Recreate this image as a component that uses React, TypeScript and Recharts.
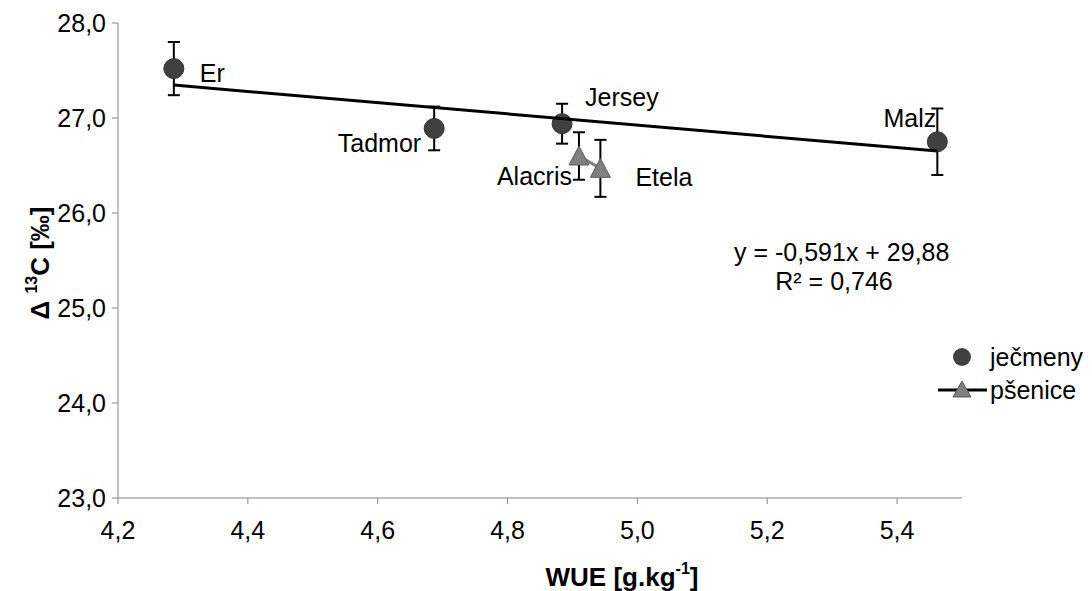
import React from 'react';
import { ScatterChart, Scatter, XAxis, YAxis, ErrorBar, Legend } from 'recharts';

// ječmeny (barley)
const barleyNames = ['Er', 'Tadmor', 'Jersey', 'Malz'];
const barleyWue = [4.286, 4.687, 4.884, 5.462];
const barleyDelta = [27.52, 26.89, 26.94, 26.75];
const barleyErr = [0.28, 0.23, 0.21, 0.35];

// pšenice (wheat)
const wheatNames = ['Alacris', 'Etela'];
const wheatWue = [4.91, 4.943];
const wheatDelta = [26.6, 26.47];
const wheatErr = [0.25, 0.3];

const xTicks = [4.2, 4.4, 4.6, 4.8, 5.0, 5.2, 5.4];
const yTicks = [23, 24, 25, 26, 27, 28];

// trend line from the chart's equation
const trendSlope = -0.591;
const trendIntercept = 29.88;
const trendText = ['y = -0,591x + 29,88', 'R² = 0,746'];

const FONT = '"Liberation Sans", Arial, sans-serif';
const FS = 25;
const fmt = (v: number) => v.toFixed(1).replace('.', ',');

const barley = barleyNames.map((name, i) => ({ name, x: barleyWue[i], y: barleyDelta[i], err: barleyErr[i] }));
const wheat = wheatNames.map((name, i) => ({ name, x: wheatWue[i], y: wheatDelta[i], err: wheatErr[i] }));
const trendX = [Math.min(...barleyWue), Math.max(...barleyWue)];
const trend = trendX.map(x => ({ x, y: trendSlope * x + trendIntercept }));

// label offsets relative to the marker centre
const labelPos: Record<string, { dx: number; dy: number; anchor: string }> = {
  Er: { dx: 26, dy: 4, anchor: 'start' },
  Tadmor: { dx: -13, dy: 15, anchor: 'end' },
  Jersey: { dx: 23, dy: -27, anchor: 'start' },
  Malz: { dx: -1, dy: -24, anchor: 'end' },
  Alacris: { dx: -7, dy: 20, anchor: 'end' },
  Etela: { dx: 35, dy: 9, anchor: 'start' },
};

const PointLabel = ({ cx, cy, name }: any) => {
  const p = labelPos[name];
  return (
    <text x={cx + p.dx} y={cy + p.dy} textAnchor={p.anchor} dominantBaseline="central"
      fontFamily={FONT} fontSize={FS} fill="#000">{name}</text>
  );
};

const Circle = (props: any) => {
  const { cx, cy, payload } = props;
  return (
    <g>
      <circle cx={cx} cy={cy} r={10} fill="#404040" stroke="#333" strokeWidth={1} />
      <PointLabel cx={cx} cy={cy} name={payload.name} />
    </g>
  );
};

const Triangle = (props: any) => {
  const { cx, cy, payload } = props;
  return (
    <g>
      <polygon points={`${cx},${cy - 10} ${cx + 10},${cy + 9} ${cx - 10},${cy + 9}`}
        fill="#808080" stroke="#5a5a5a" strokeWidth={1} />
      <PointLabel cx={cx} cy={cy} name={payload.name} />
    </g>
  );
};

const LegendBox = () => (
  <svg width={155} height={70} style={{ fontFamily: FONT }}>
    <circle cx={27} cy={17} r={9} fill="#404040" />
    <text x={55} y={17} dominantBaseline="central" fontSize={FS}>ječmeny</text>
    <line x1={3} y1={50} x2={52} y2={50} stroke="#000" strokeWidth={3} />
    <polygon points="27,41 36,57 18,57" fill="#808080" stroke="#5a5a5a" />
    <text x={55} y={50} dominantBaseline="central" fontSize={FS}>pšenice</text>
  </svg>
);

export default function App() {
  return (
    <div style={{ position: 'absolute', left: 0, top: 0, width: 1092, height: 591, background: '#fff', fontFamily: FONT }}>
      <ScatterChart width={1092} height={591} margin={{ top: 23, right: 130, left: 28, bottom: 33 }}>
        <XAxis type="number" dataKey="x" domain={[4.2, 5.5]} ticks={xTicks} allowDataOverflow
          tickFormatter={fmt} stroke="#868686" tickSize={6} tickMargin={17} height={60}
          tick={{ fill: '#000', fontSize: FS, fontFamily: FONT }}
          label={{
            content: () => (
              <text x={622} y={577} textAnchor="middle" dominantBaseline="central"
                fontFamily={FONT} fontSize={26} fontWeight="bold" fill="#000">
                WUE [g.kg<tspan fontSize={16} dy={-9}>-1</tspan><tspan dy={9}>]</tspan>
              </text>
            ),
          }} />
        <YAxis type="number" dataKey="y" domain={[23, 28]} ticks={yTicks} allowDataOverflow
          tickFormatter={fmt} stroke="#868686" tickSize={6} tickMargin={6} width={90}
          tick={{ fill: '#000', fontSize: FS, fontFamily: FONT }}
          label={{
            content: () => (
              <text x={40} y={263} transform="rotate(-90 40 263)" textAnchor="middle" dominantBaseline="central"
                fontFamily={FONT} fontSize={26} fontWeight="bold" fill="#000">
                Δ <tspan fontSize={16} dy={-9}>13</tspan><tspan dy={9}>C [‰]</tspan>
              </text>
            ),
          }} />
        <Scatter name="ječmeny" data={barley} shape={Circle} isAnimationActive={false}>
          <ErrorBar dataKey="err" direction="y" width={6} stroke="#000" strokeWidth={2} />
        </Scatter>
        <Scatter name="pšenice" data={wheat} shape={Triangle} line={{ stroke: '#808080', strokeWidth: 3 }}
          isAnimationActive={false}>
          <ErrorBar dataKey="err" direction="y" width={6} stroke="#000" strokeWidth={2} />
        </Scatter>
        <Scatter name="trend" data={trend} line={{ stroke: '#000', strokeWidth: 3 }} shape={() => <g />}
          legendType="none" isAnimationActive={false} />
        <Legend content={LegendBox} layout="vertical" align="center" verticalAlign="middle"
          wrapperStyle={{ left: 935, top: 340, width: 155 }} />
      </ScatterChart>
      <div style={{ position: 'absolute', left: 734, top: 238, width: 200, textAlign: 'center', fontSize: FS, lineHeight: '29px', color: '#000' }}>
        {trendText.map(t => <div key={t} style={{ whiteSpace: 'nowrap' }}>{t}</div>)}
      </div>
    </div>
  );
}
